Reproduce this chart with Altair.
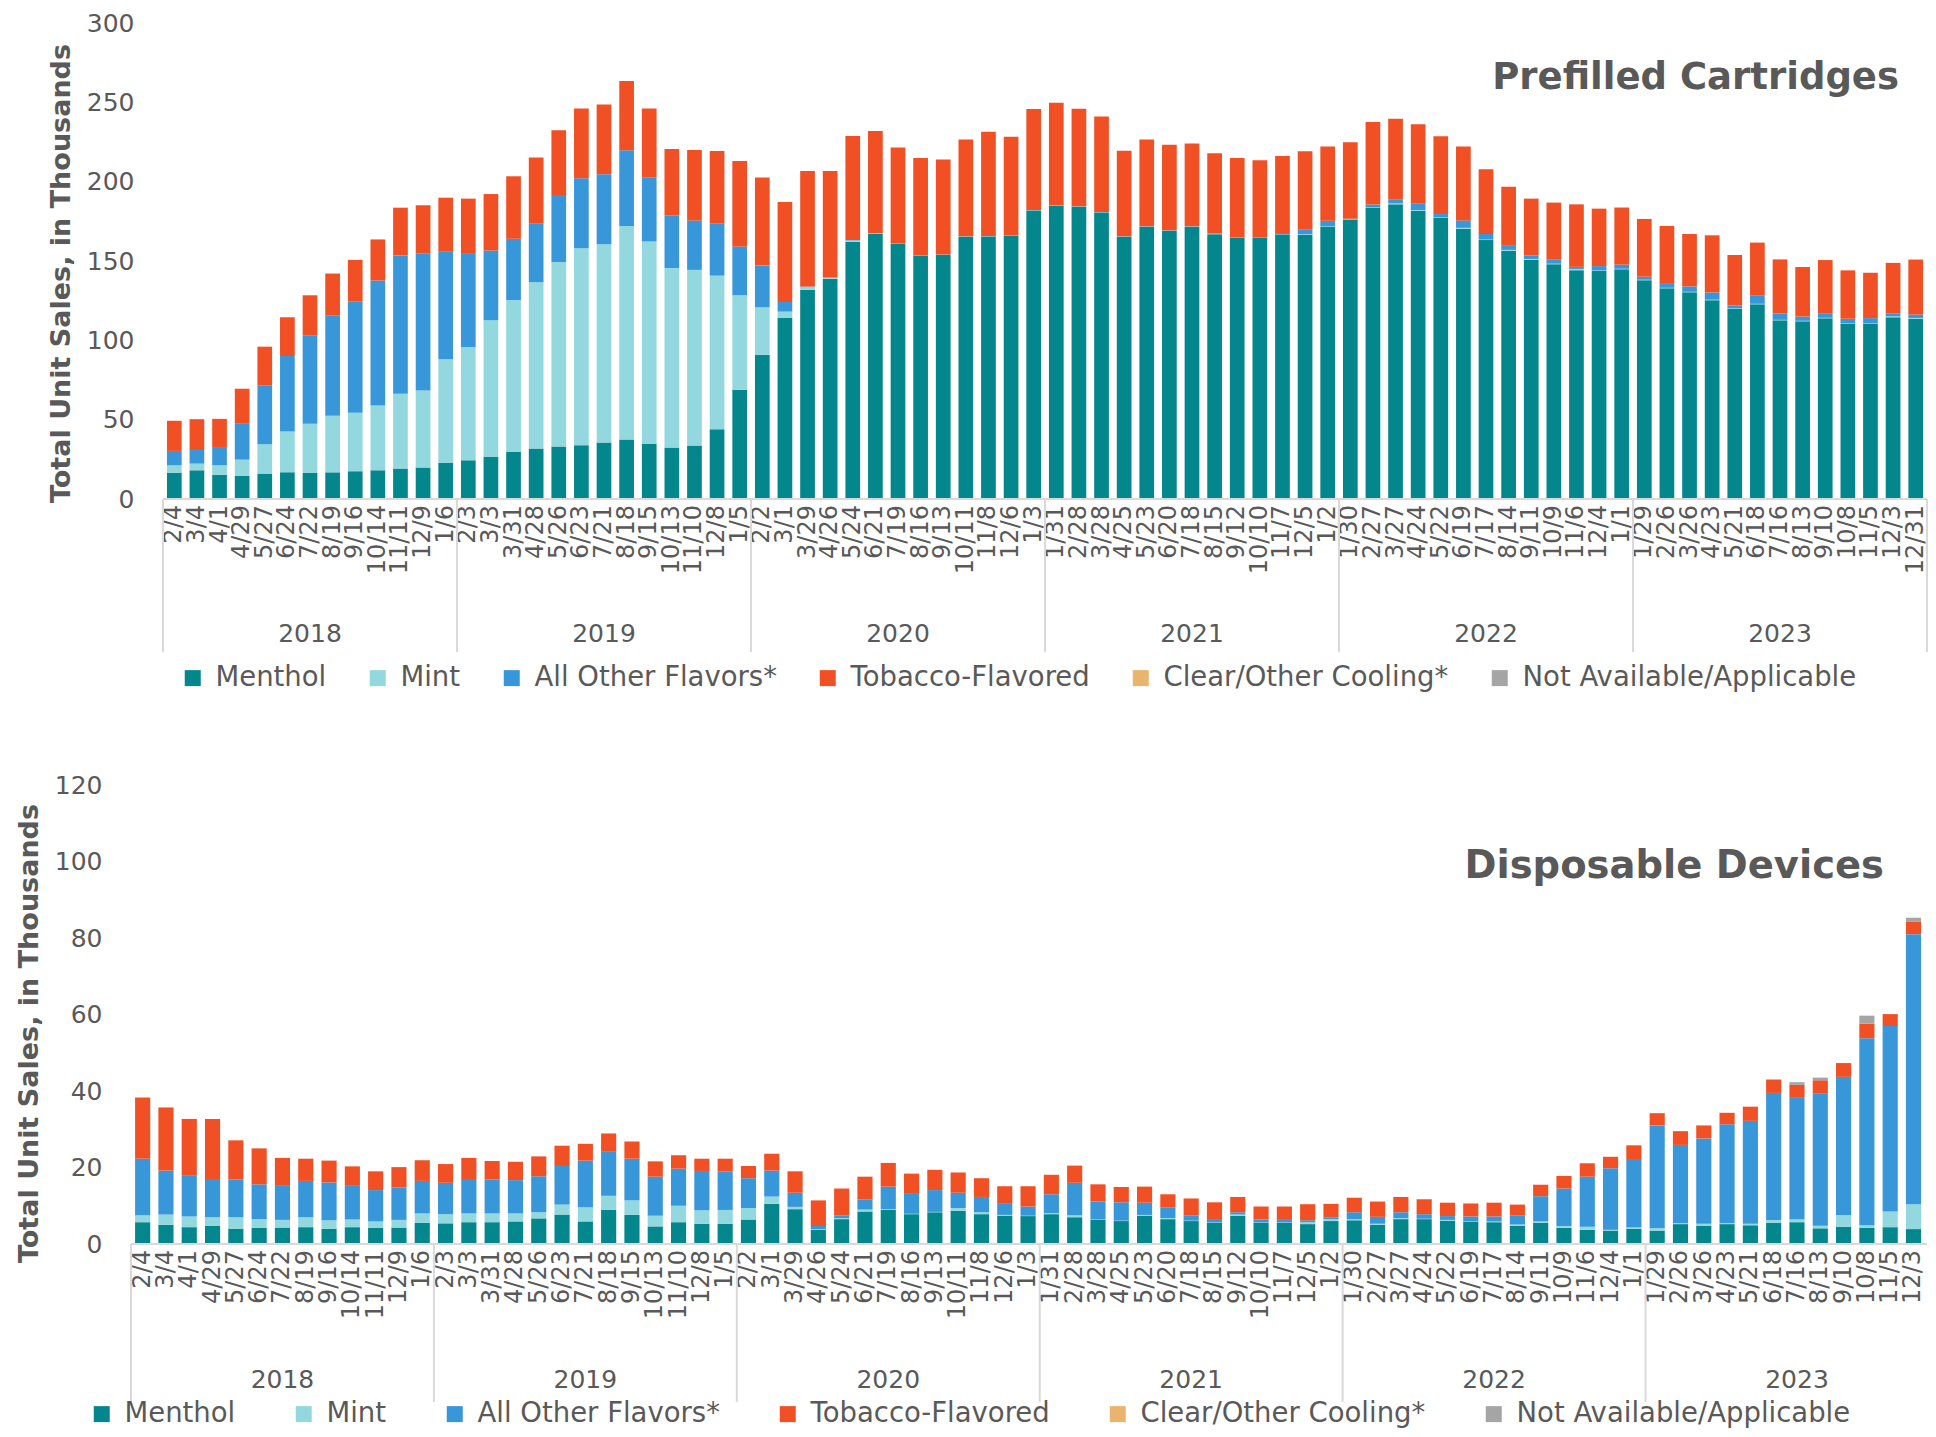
import altair as alt
import pandas as pd

# ---------------- data ----------------
periods = [
    "2/4", "3/4", "4/1", "4/29", "5/27", "6/24", "7/22", "8/19", "9/16", "10/14", "11/11", "12/9", "1/6",
    "2/3", "3/3", "3/31", "4/28", "5/26", "6/23", "7/21", "8/18", "9/15", "10/13", "11/10", "12/8", "1/5",
    "2/2", "3/1", "3/29", "4/26", "5/24", "6/21", "7/19", "8/16", "9/13", "10/11", "11/8", "12/6", "1/3",
    "1/31", "2/28", "3/28", "4/25", "5/23", "6/20", "7/18", "8/15", "9/12", "10/10", "11/7", "12/5", "1/2",
    "1/30", "2/27", "3/27", "4/24", "5/22", "6/19", "7/17", "8/14", "9/11", "10/9", "11/6", "12/4", "1/1",
    "1/29", "2/26", "3/26", "4/23", "5/21", "6/18", "7/16", "8/13", "9/10", "10/8", "11/5", "12/3", "12/31",
]
years = ["2018", "2019", "2020", "2021", "2022", "2023"]
categories = ["Menthol", "Mint", "All Other Flavors*", "Tobacco-Flavored",
              "Clear/Other Cooling*", "Not Available/Applicable"]
colors = ["#03868C", "#92D8DE", "#3897D9", "#F05023", "#E9B56E", "#A5A5A5"]

# Prefilled cartridges (thousands)
cart_menthol = [16.6, 18.1, 15.2, 14.5, 16.0, 16.8, 16.6, 16.8, 17.5, 18.1, 19.2, 19.8, 22.9,
                24.4, 26.7, 29.7, 31.8, 33.1, 33.9, 35.6, 37.5, 34.9, 32.4, 33.7, 44.0, 68.8,
                90.9, 114.1, 131.8, 138.7, 162.1, 167.2, 160.8, 153.3, 153.9, 165.3, 165.5, 166.1, 181.9,
                184.8, 184.2, 180.6, 165.3, 171.6, 169.1, 171.6, 166.9, 164.6, 164.6, 166.5, 166.5, 171.6,
                176.0, 183.4, 185.7, 181.7, 177.3, 170.3, 163.2, 156.4, 150.7, 148.0, 144.2, 143.8, 144.8,
                137.9, 132.8, 130.3, 125.3, 119.8, 122.7, 112.6, 112.0, 113.9, 110.3, 110.3, 114.5, 113.5]
cart_mint = [4.6, 4.2, 6.1, 10.3, 18.5, 25.7, 30.8, 35.6, 36.8, 40.8, 47.1, 48.6, 65.1,
             71.4, 85.9, 95.6, 104.8, 116.2, 124.2, 125.0, 134.5, 127.4, 113.1, 110.7, 96.8, 59.6,
             29.9, 4.0, 1.7, 0.7, 0.8, 0.2, 0.1, 0.1, 0.1, 0.1, 0.1, 0.1, 0.1,
             0.1, 0.1, 0.1, 0.1, 0.1, 0.1, 0.1, 0.1, 0.1, 0.1, 0.1, 0.4, 0.2,
             0.2, 0.3, 0.6, 0.4, 0.2, 0.6, 0.3, 0.6, 0.6, 0.3, 0.8, 0.3, 0.3,
             0.3, 0.3, 0.3, 0.3, 0.3, 0.3, 0.3, 0.3, 0.3, 0.3, 0.3, 0.6, 0.6]
cart_other = [9.1, 8.6, 10.9, 23.0, 36.9, 47.6, 55.5, 63.2, 70.3, 78.8, 87.2, 86.5, 67.8,
              58.7, 44.0, 38.7, 36.9, 42.3, 44.0, 44.0, 47.8, 40.2, 33.2, 31.2, 32.7, 30.8,
              26.3, 6.1, 0.4, 0.2, 0.3, 0.2, 0.1, 0.1, 0.1, 0.2, 0.2, 0.2, 0.2,
              0.2, 0.2, 0.2, 0.2, 0.2, 0.2, 0.2, 0.3, 0.3, 0.3, 1.1, 2.8, 3.6,
              0.4, 1.9, 2.3, 4.0, 2.1, 4.7, 3.5, 3.0, 2.2, 2.5, 1.3, 2.7, 2.6,
              1.9, 3.0, 3.4, 4.6, 1.9, 5.1, 4.0, 2.7, 2.9, 3.0, 3.4, 1.7, 2.1]
cart_tobacco = [19.0, 19.4, 18.3, 21.7, 24.6, 24.4, 25.5, 26.5, 26.1, 25.9, 30.1, 30.2, 34.1,
                34.8, 35.6, 39.4, 41.7, 40.8, 44.0, 44.0, 43.6, 43.6, 41.9, 44.4, 45.9, 53.9,
                55.6, 63.0, 72.8, 67.1, 65.6, 64.4, 60.5, 61.4, 59.8, 61.0, 65.7, 61.9, 63.6,
                64.7, 61.5, 60.2, 53.9, 54.7, 53.8, 52.2, 50.6, 49.9, 48.5, 48.4, 49.5, 46.7,
                48.2, 52.0, 51.0, 50.1, 49.0, 46.5, 40.9, 36.8, 35.8, 36.0, 39.4, 36.2, 36.0,
                36.4, 36.0, 33.0, 36.0, 31.8, 33.5, 34.1, 31.2, 33.5, 30.5, 28.6, 32.0, 34.7]
cart_clear = [0.0] * 78
cart_na = [0.0] * 78

# Disposable devices (thousands)
disp_menthol = [5.7, 5.0, 4.4, 4.7, 4.0, 4.2, 4.3, 4.4, 4.0, 4.4, 4.2, 4.3, 5.5,
                5.4, 5.7, 5.7, 5.9, 6.7, 7.7, 5.9, 8.9, 7.6, 4.6, 5.7, 5.3, 5.3,
                6.4, 10.5, 9.1, 3.7, 6.5, 8.5, 8.9, 7.8, 8.3, 8.7, 7.8, 7.4, 7.3,
                7.8, 7.0, 6.3, 6.0, 7.4, 6.5, 6.0, 5.5, 7.4, 5.5, 5.5, 5.2, 6.0,
                6.2, 5.0, 6.5, 6.5, 6.1, 5.8, 5.7, 4.8, 5.5, 4.2, 3.7, 3.5, 4.0,
                3.5, 5.2, 4.8, 5.2, 4.9, 5.5, 5.7, 4.1, 4.5, 4.2, 4.4, 3.9, 5.5]
disp_mint = [1.8, 2.7, 2.8, 2.3, 3.0, 2.3, 2.0, 2.6, 2.2, 2.0, 1.7, 2.0, 2.5,
             2.4, 2.3, 2.3, 2.1, 1.6, 2.6, 3.7, 3.7, 3.8, 2.8, 4.3, 3.5, 3.6,
             3.0, 1.9, 0.6, 0.2, 0.3, 0.5, 0.2, 0.1, 0.1, 0.7, 0.5, 0.2, 0.1,
             0.3, 0.5, 0.1, 0.1, 0.2, 0.3, 0.1, 0.1, 0.3, 0.1, 0.1, 0.5, 0.5,
             0.3, 0.3, 0.3, 0.1, 0.2, 0.1, 0.2, 0.3, 0.4, 0.5, 0.8, 0.2, 0.3,
             0.6, 0.3, 0.5, 0.3, 0.4, 0.8, 0.8, 0.7, 3.1, 0.7, 4.1, 6.5, 4.9]
disp_other = [14.8, 11.5, 10.8, 10.0, 9.9, 9.1, 8.9, 9.5, 9.9, 8.8, 8.2, 8.5, 8.5,
              8.2, 9.0, 8.9, 8.7, 9.4, 10.1, 12.2, 11.5, 10.9, 10.2, 9.7, 10.3, 10.1,
              7.8, 6.8, 3.7, 0.8, 0.7, 2.6, 5.9, 5.2, 5.7, 4.0, 4.0, 2.9, 2.4,
              4.9, 8.5, 4.7, 4.8, 3.2, 2.7, 1.3, 0.7, 0.6, 0.8, 0.7, 0.5, 0.5,
              1.8, 1.8, 1.5, 1.2, 1.0, 1.3, 1.3, 2.3, 6.6, 9.8, 13.1, 16.1, 17.9,
              26.9, 20.4, 22.3, 25.8, 26.9, 33.2, 31.7, 34.6, 36.1, 48.9, 48.5, 70.6, 82.9]
disp_tobacco = [16.0, 16.5, 14.7, 15.7, 10.2, 9.4, 7.3, 5.8, 5.7, 5.1, 4.9, 5.3, 5.4,
                4.9, 5.5, 4.8, 4.8, 5.2, 5.3, 4.4, 4.8, 4.5, 4.0, 3.5, 3.2, 3.3,
                3.2, 4.4, 5.6, 6.7, 7.0, 6.0, 6.2, 5.3, 5.3, 5.3, 4.9, 4.6, 5.3,
                5.1, 4.5, 4.5, 4.0, 4.2, 3.5, 4.5, 4.6, 4.0, 3.4, 3.5, 4.2, 3.5,
                3.8, 4.0, 4.0, 3.9, 3.5, 3.4, 3.6, 2.9, 3.0, 3.3, 3.5, 3.0, 3.6,
                3.2, 3.6, 3.4, 3.0, 3.7, 3.5, 3.4, 3.4, 3.6, 3.8, 3.1, 3.2, 3.2]
disp_clear = [0.0] * 78
disp_na = [0.0] * 71 + [0.7, 0.7, 0.0, 2.1, 0.0, 1.1, 2.5]

# ---------------- helpers ----------------
GRAY = "#595959"
LINE = "#D9D9D9"
FONT = "DejaVu Sans"


def long_table(series):
    rows = []
    for order, (cat, vals) in enumerate(zip(categories, series)):
        for i, v in enumerate(vals):
            rows.append({"idx": i, "category": cat, "order": order, "value": v})
    return pd.DataFrame(rows)


periods_df = pd.DataFrame({"idx": list(range(len(periods))), "period": periods})
bounds_df = pd.DataFrame({"pos": [13 * k for k in range(7)]})
years_df = pd.DataFrame({"year": years, "mid": [13 * k + 6.5 for k in range(6)]})


def panel(df, title, W, H, ymax, ystep, dmax, x_shift, y_offset,
          title_x, title_y, title_size, legend_x, legend_y, col_pad,
          anchor_y0, anchor_y1, div_len, year_dy, y_title_y):
    xs = alt.Scale(domain=[0, dmax], range=[-x_shift, W], nice=False, zero=False)
    color = alt.Color(
        "category:N",
        scale=alt.Scale(domain=categories, range=colors),
        legend=alt.Legend(title=None, orient="none", legendX=legend_x, legendY=legend_y,
                          direction="horizontal", columns=6, symbolType="square",
                          symbolSize=256, symbolStrokeWidth=0, labelFontSize=27.5,
                          labelColor=GRAY, labelFont=FONT, labelOffset=9, padding=0,
                          columnPadding=col_pad, labelLimit=600),
    )
    bars = (
        alt.Chart(df)
        .transform_filter(f"datum.idx + 0.175 < {dmax}")
        .transform_stack(stack="value", groupby=["idx"],
                         sort=[alt.SortField("order", order="ascending")],
                         as_=["y0", "y1"])
        .transform_calculate(xa="datum.idx + 0.175", xb=f"min(datum.idx + 0.825, {dmax})")
        .mark_bar()
        .encode(
            x=alt.X("xa:Q", scale=xs, axis=None),
            x2="xb:Q",
            y=alt.Y("y0:Q", scale=alt.Scale(domain=[0, ymax], nice=False),
                    axis=alt.Axis(values=list(range(0, ymax + 1, ystep)),
                                  title="Total Unit Sales, in Thousands",
                                  titleFontSize=27, titleFontWeight="bold", titleColor=GRAY,
                                  titleFont=FONT, titlePadding=11, titleY=y_title_y,
                                  labelFontSize=25, labelColor=GRAY, labelFont=FONT,
                                  labelPadding=29, ticks=False, domain=False, grid=False,
                                  offset=y_offset)),
            y2="y1:Q",
            color=color,
        )
    )
    baseline = alt.Chart(pd.DataFrame({"a": [0], "b": [dmax]})).mark_rule(
        color=LINE, strokeWidth=2).encode(
        x=alt.X("a:Q", scale=xs, axis=None), x2="b:Q", y=alt.value(H))
    date_labels = (
        alt.Chart(periods_df)
        .transform_calculate(xm="datum.idx + 0.5")
        .transform_filter(f"datum.idx + 0.5 < {dmax}")
        .mark_text(angle=270, align="right", baseline="middle", fontSize=24,
                   color=GRAY, font=FONT)
        .encode(x=alt.X("xm:Q", scale=xs, axis=None), y=alt.value(H + 6), text="period:N")
    )
    dividers = (
        alt.Chart(bounds_df)
        .transform_filter(f"datum.pos <= {dmax}")
        .mark_rule(color=LINE, strokeWidth=2)
        .encode(x=alt.X("pos:Q", scale=xs, axis=None),
                y=alt.value(H), y2=alt.value(H + div_len))
    )
    year_text = alt.Chart(years_df).mark_text(fontSize=25, color=GRAY, font=FONT,
                                              baseline="middle").encode(
        x=alt.X("mid:Q", scale=xs, axis=None),
        y=alt.value(H + year_dy),
        text="year:N",
    )
    title_text = alt.Chart(pd.DataFrame({"t": [title]})).mark_text(
        align="right", baseline="alphabetic", fontSize=title_size, fontWeight="bold",
        color=GRAY, font=FONT).encode(x=alt.value(title_x), y=alt.value(title_y), text="t:N")
    anchor = alt.Chart(pd.DataFrame({"a": [0]})).mark_rule(color="white", strokeWidth=1).encode(
        x=alt.value(-154), y=alt.value(anchor_y0), y2=alt.value(anchor_y1))
    return alt.layer(bars, baseline, date_labels, dividers, year_text, title_text,
                     anchor).properties(width=W, height=H)


top = panel(long_table([cart_menthol, cart_mint, cart_other, cart_tobacco, cart_clear, cart_na]),
            "Prefilled Cartridges", W=1764, H=476, ymax=300, ystep=50,
            dmax=78, x_shift=0, y_offset=0,
            title_x=1736, title_y=66, title_size=37,
            legend_x=16, legend_y=641, col_pad=37,
            anchor_y0=-14, anchor_y1=680,
            div_len=153, year_dy=135, y_title_y=250)

bottom = panel(long_table([disp_menthol, disp_mint, disp_other, disp_tobacco, disp_clear, disp_na]),
               "Disposable Devices", W=1764, H=459, ymax=120, ystep=20,
               dmax=77.08, x_shift=32, y_offset=32,
               title_x=1721, title_y=93, title_size=38.5,
               legend_x=-75, legend_y=615, col_pad=54,
               anchor_y0=-34, anchor_y1=-33,
               div_len=158, year_dy=136, y_title_y=248)

chart = (
    alt.vconcat(top, bottom, spacing=46)
    .resolve_scale(color="independent", x="independent", y="independent")
    .resolve_legend(color="independent")
    .properties(padding=0, background="white")
    .configure(font=FONT)
    .configure_view(stroke=None)
)

chart.save("out.html", embed_options={"renderer": "svg", "actions": False})
